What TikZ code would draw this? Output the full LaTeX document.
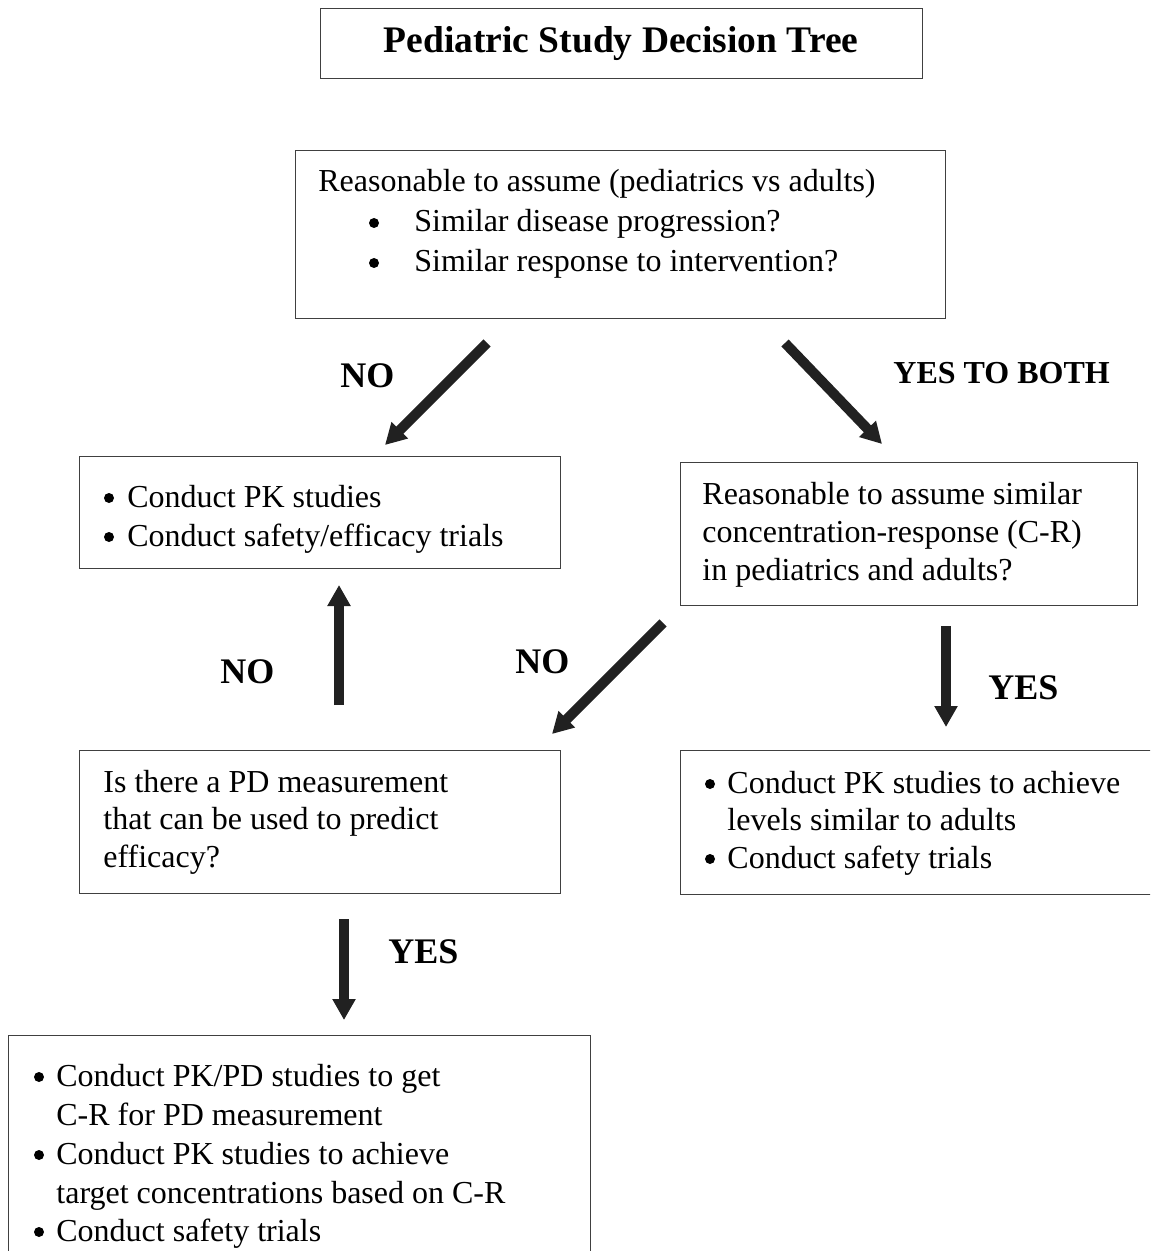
\documentclass[tikz,border=0pt]{standalone}
\usepackage{fontspec}
\setmainfont{Liberation Serif}
\usetikzlibrary{arrows.meta}

\begin{document}
\begin{tikzpicture}[x=0.5pt, y=-0.5pt,
	box/.style={draw=black!75, line width=0.7pt, anchor=north west, inner sep=0pt},
	txt/.style={anchor=base west, inner sep=0pt, font=\fontsize{16}{19}\selectfont},
	dot/.style={circle, fill=black, inner sep=0pt, minimum size=5pt},
	lbl/.style={anchor=base west, inner sep=0pt, font=\fontsize{18}{21}\selectfont\bfseries},
	fat/.style={line width=5pt, black!87, -{Triangle[width=11pt,length=10.5pt]}}]
	\clip (0,0) rectangle (1150,1251);
	\fill[white] (0,0) rectangle (1150,1251);

	\node[box, minimum width=301pt, minimum height=35pt] (title) at (320,8) {};
	\node[anchor=base, inner sep=0pt, font=\fontsize{18.75}{22}\selectfont\bfseries] (titletext) at (621,53) {Pediatric Study Decision Tree};

	\node[box, minimum width=325pt, minimum height=84pt] (start) at (295,150) {};
	\node[txt] (start0) at (318,192) {Reasonable to assume (pediatrics vs adults)};
	\foreach \y/\s [count=\i] in {232/Similar disease progression?, 272/Similar response to intervention?}
	{
		\node[dot] (startb\i) at (374,\y-9) {};
		\node[txt] (start\i) at (414,\y) {\s};
	}

	\node[box, minimum width=240.5pt, minimum height=56pt] (pkall) at (79,456) {};
	\foreach \y/\s [count=\i] in {507/Conduct PK studies, 546/{Conduct safety/efficacy trials}}
	{
		\node[dot] (pkallb\i) at (109,\y-9) {};
		\node[txt] (pkall\i) at (127,\y) {\s};
	}

	\node[box, minimum width=228.5pt, minimum height=71.5pt] (cr) at (680,462) {};
	\foreach \y/\s [count=\i] in {504/Reasonable to assume similar, 542/concentration-response (C-R), 580/in pediatrics and adults?}
	{
		\node[txt] (cr\i) at (702,\y) {\s};
	}

	\node[box, minimum width=240.5pt, minimum height=71.5pt] (pd) at (79,750) {};
	\foreach \y/\s [count=\i] in {792/Is there a PD measurement, 829.5/that can be used to predict, 867/efficacy?}
	{
		\node[txt] (pd\i) at (103,\y) {\s};
	}

	\node[box, minimum width=245pt, minimum height=72pt] (pkadult) at (680,750) {};
	\foreach \y/\s [count=\i] in {793/Conduct PK studies to achieve, 830.5/levels similar to adults, 868/Conduct safety trials}
	{
		\node[txt] (pkadult\i) at (727,\y) {\s};
	}
	\foreach \y [count=\i] in {793,868}
	{
		\node[dot] (pkadultb\i) at (710,\y-9) {};
	}

	\node[box, minimum width=291pt, minimum height=132.5pt] (pkpd) at (8,1035) {};
	\foreach \y/\s [count=\i] in {1086/{Conduct PK/PD studies to get}, 1125/C-R for PD measurement, 1164/Conduct PK studies to achieve, 1203/target concentrations based on C-R, 1241/Conduct safety trials}
	{
		\node[txt] (pkpd\i) at (56,\y) {\s};
	}
	\foreach \y [count=\i] in {1086,1164,1241}
	{
		\node[dot] (pkpdb\i) at (39,\y-9) {};
	}

	\coordinate (no1a) at (487,343);
	\coordinate (no1b) at (385,445);
	\coordinate (yb1a) at (785,343);
	\coordinate (yb1b) at (882,444);
	\coordinate (no2a) at (339,705);
	\coordinate (no2b) at (339,585);
	\coordinate (no3a) at (663,623);
	\coordinate (no3b) at (552,734);
	\coordinate (yes1a) at (946,626);
	\coordinate (yes1b) at (946,727);
	\coordinate (yes2a) at (344,919);
	\coordinate (yes2b) at (344,1020);
	\draw[fat] (no1a) -- (no1b);
	\draw[fat] (yb1a) -- (yb1b);
	\draw[fat] (no2a) -- (no2b);
	\draw[fat] (no3a) -- (no3b);
	\draw[fat] (yes1a) -- (yes1b);
	\draw[fat] (yes2a) -- (yes2b);

	\node[lbl] (no1) at (340,387) {NO};
	\node[lbl, font=\fontsize{16}{19}\selectfont\bfseries] (yesboth) at (893,383) {YES TO BOTH};
	\node[lbl] (no2) at (220,683) {NO};
	\node[lbl] (no3) at (515,673) {NO};
	\node[lbl] (yes1) at (988,699) {YES};
	\node[lbl] (yes2) at (388,963) {YES};
\end{tikzpicture}
\end{document}
